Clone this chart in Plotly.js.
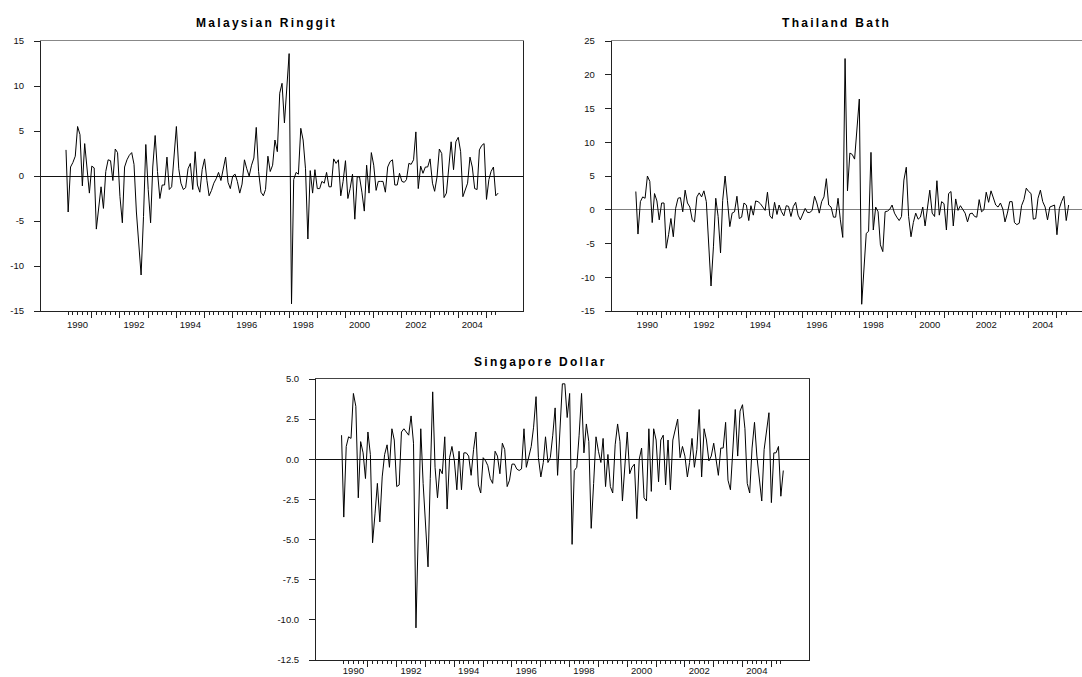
<!DOCTYPE html>
<html><head><meta charset="utf-8">
<script src="https://cdn.plot.ly/plotly-3.0.1.min.js"></script>
<style>html,body{margin:0;padding:0;background:#fff;}</style>
</head><body>
<div id="chart" style="width:1082px;height:677px"></div>
<script>
// first observation month of every series
const startYear = 1990, startMonth = 2;

const malaysia = [
 2.9,-4.0,1.0,1.5,2.2,5.5,4.6,-1.1,3.6,0.5,
 -1.9,1.1,0.9,-5.9,-3.5,-1.2,-3.6,0.5,1.8,1.7,
 -0.5,3.0,2.6,-2.3,-5.2,1.0,1.8,2.3,2.6,1.3,
 -4.0,-8.0,-11.0,-4.5,3.5,-1.5,-5.2,1.0,4.5,0.5,
 -2.5,-1.0,-1.0,2.1,-1.5,-1.2,2.0,5.5,0.8,-0.8,
 -1.5,-1.3,0.8,1.4,-1.5,2.7,-1.0,-1.8,0.7,1.9,
 -0.5,-2.2,-1.6,-0.8,-0.3,0.4,-0.5,0.9,2.1,-0.7,
 -1.4,0.0,0.2,-0.6,-1.9,-0.9,1.8,0.8,0.0,1.2,
 2.0,5.4,0.5,-1.8,-2.2,-1.5,2.2,0.5,1.2,4.0,
 2.7,9.2,10.3,5.9,9.7,13.6,-14.2,-0.4,0.4,0.2,
 5.3,4.0,0.8,-7.0,0.6,-1.9,0.7,-1.4,-1.4,-0.6,
 -0.8,0.4,-1.2,-1.2,1.9,1.4,1.8,-2.2,-0.6,1.7,
 -2.5,-1.4,0.2,-4.8,-0.1,-0.1,-1.8,-3.9,1.2,-1.9,
 2.6,1.2,-1.6,-0.6,-0.6,-0.6,-1.8,1.0,1.6,1.8,
 -1.0,-1.0,0.3,-0.6,-0.7,-0.4,1.4,1.3,1.8,4.9,
 -1.4,1.1,0.3,1.0,1.0,1.9,-0.8,-1.7,-0.1,3.0,
 2.5,-2.4,-1.9,1.0,3.8,0.7,3.8,4.3,2.7,-2.3,
 -1.4,-0.8,2.1,1.0,-1.4,-1.5,2.9,3.4,3.6,-2.6,
 -0.4,0.5,1.0,-2.2,-1.9
];

const thailand = [
 2.7,-3.6,1.2,1.9,1.7,5.0,4.2,-1.9,2.4,1.3,
 -1.5,1.0,1.0,-5.7,-3.7,-1.3,-4.0,0.2,1.7,1.8,
 -0.3,2.9,1.0,0.4,-1.5,-1.8,1.9,2.5,1.9,2.8,
 1.2,-5.0,-11.3,-5.5,1.7,-1.0,-6.4,1.4,5.0,1.4,
 -2.5,-0.5,-0.3,2.0,-1.3,-1.1,1.0,0.7,-1.6,0.6,
 -0.8,1.3,1.2,0.9,0.4,-0.1,2.6,-0.9,-1.3,1.1,
 -0.7,0.7,-0.3,-0.9,0.6,0.5,-1.0,0.5,1.1,-0.8,
 -1.5,-0.5,0.2,-0.4,-0.4,-0.1,2.0,1.0,-0.5,1.2,
 1.9,4.6,0.7,0.4,-1.1,-1.1,1.7,-1.5,-4.1,22.4,
 2.8,8.4,8.2,7.5,11.6,16.4,-14.0,-8.9,-3.5,-3.2,
 8.5,-3.0,0.4,-0.3,-5.2,-6.2,-0.3,-0.2,0.1,0.7,
 -0.5,-1.1,-1.6,-1.0,4.4,6.3,-1.0,-4.0,-1.9,-0.5,
 -1.4,-1.1,0.4,-2.4,0.5,2.9,-0.5,-1.0,4.3,-0.8,
 1.2,0.9,-3.0,2.4,2.7,-2.4,1.6,-0.1,0.6,0.1,
 -0.5,-1.8,-0.6,-0.5,-1.0,-1.1,1.5,-0.3,0.0,2.6,
 1.1,2.8,1.9,0.7,0.4,1.0,0.1,-1.8,-0.5,1.2,
 1.2,-1.9,-2.2,-2.0,0.6,1.5,3.2,2.7,2.4,-1.4,
 -1.3,1.7,2.9,1.2,0.4,-1.5,0.4,0.5,0.7,-3.7,
 0.2,1.2,2.0,-1.6,0.7
];

const singapore = [
 1.5,-3.6,0.8,1.4,1.3,4.1,3.3,-2.4,1.1,0.4,
 -1.2,1.7,0.3,-5.2,-3.4,-1.5,-3.9,-1.1,0.3,0.9,
 -0.5,1.9,1.2,-1.7,-1.6,1.7,1.9,1.7,1.5,2.7,
 1.0,-10.5,-4.3,1.9,-1.5,-4.1,-6.7,-1.2,4.2,-0.5,
 -2.4,-0.6,-0.9,1.4,-3.1,0.1,0.8,-0.1,-1.9,0.5,
 -1.9,0.4,0.4,0.2,-1.0,0.6,1.7,-1.6,-2.1,0.1,
 -0.1,-0.4,-1.2,-1.5,0.5,0.2,-0.9,1.0,0.6,-1.7,
 -1.3,-0.3,-0.3,-0.6,-0.7,-0.6,1.9,-0.5,0.2,0.8,
 2.0,3.9,0.1,-1.1,-0.2,1.4,-0.2,0.1,1.5,3.2,
 -1.0,2.0,4.7,4.7,2.6,4.1,-5.3,-0.7,-0.5,1.5,
 4.1,0.4,2.2,1.1,-4.3,-1.5,1.4,0.5,-0.2,1.3,
 -1.7,0.3,-1.7,-2.1,0.9,2.2,1.1,-2.6,-0.5,1.7,
 -0.9,-0.5,-0.3,-3.7,0.0,0.7,-2.4,-2.6,1.9,-2.0,
 1.9,1.2,-1.4,1.2,1.5,-1.6,1.2,-1.9,1.2,1.8,
 2.5,0.1,0.8,0.2,-1.1,-0.2,1.3,-0.5,0.6,3.1,
 -1.1,1.9,1.2,-0.1,0.2,1.0,0.0,-1.0,0.7,0.7,
 2.3,-1.3,-1.9,0.6,3.1,0.2,3.0,3.4,1.9,-1.5,
 -2.1,0.7,2.3,0.2,-1.3,-2.6,0.6,1.8,2.9,-2.7,
 0.4,0.4,0.8,-2.3,-0.7
];

const panelTitles = ['Malaysian Ringgit', 'Thailand Bath', 'Singapore Dollar'];
const yearLabels = ['1990','1992','1994','1996','1998','2000','2002','2004'];
const malTickVals = [-15,-10,-5,0,5,10,15];
const malTickText = ['-15','-10','-5','0','5','10','15'];
const thaTickVals = [-15,-10,-5,0,5,10,15,20,25];
const thaTickText = ['-15','-10','-5','0','5','10','15','20','25'];
const sgpTickVals = [-12.5,-10,-7.5,-5,-2.5,0,2.5,5];
const sgpTickText = ['-12.5','-10.0','-7.5','-5.0','-2.5','0.0','2.5','5.0'];

// monthly dates
const pad = n => String(n).padStart(2,'0');
const dates = malaysia.map((_, k) => {
  const m0 = startMonth - 1 + k;
  return (startYear + Math.floor(m0/12)) + '-' + pad(m0 % 12 + 1) + '-01';
});
const yearStarts = dates.filter(d => d.slice(5,7) === '01');
const minorVals = dates.filter(d => { const m = +d.slice(5,7); return m % 2 === 1 && m !== 1; });
const labelVals = yearLabels.map(y => y + '-07-01');

const W = 1082, H = 677;
const px = v => v / W, py = v => 1 - v / H;

const FONT = 'Liberation Sans, Arial, sans-serif';
const tickFont = {family: FONT, size: 9.5, color: '#111'};

function lineTrace(y, xa, ya) {
  return {type:'scatter', mode:'lines', x: dates, y: y, xaxis: xa, yaxis: ya,
          line:{color:'#000', width:1}, showlegend:false, hoverinfo:'skip'};
}
function dummy(xa, ya) {
  return {type:'scatter', mode:'lines', x:[dates[0]], y:[null], xaxis: xa, yaxis: ya,
          showlegend:false, hoverinfo:'skip'};
}

function tickAxis(domain, anchor, range, topColor) {
  return {domain: domain, anchor: anchor, type:'date', range: range, fixedrange:true,
    tickmode:'array', tickvals: yearStarts, ticks:'outside', ticklen:6, tickwidth:1, tickcolor:'#222',
    showticklabels:false, showgrid:false, zeroline:false,
    showline:true, linecolor: topColor, linewidth:1, mirror:true,
    minor:{tickmode:'array', tickvals: minorVals, ticks:'outside', ticklen:3, tickwidth:1, tickcolor:'#222', showgrid:false}};
}
function labelAxis(over, anchor, range, standoff) {
  return {overlaying: over, anchor: anchor, side:'bottom', type:'date', range: range, fixedrange:true,
    tickmode:'array', tickvals: labelVals, ticktext: yearLabels, ticks:'', tickfont: tickFont,
    ticklabelstandoff: standoff, showgrid:false, zeroline:false, showline:true, linecolor:'#222', linewidth:1};
}
function valAxis(domain, anchor, range, vals, text, mirror, zeroColor) {
  return {domain: domain, anchor: anchor, range: range, fixedrange:true,
    tickmode:'array', tickvals: vals, ticktext: text, ticks:'outside', ticklen:6, tickwidth:1, tickcolor:'#222',
    tickfont: tickFont, ticklabelstandoff: 8, showgrid:false,
    zeroline:true, zerolinecolor: zeroColor, zerolinewidth:1,
    showline:true, linecolor:'#222', linewidth:1, mirror: mirror};
}

const rangeMS = ['1989-03-14', '2006-04-19'];
const rangeT = ['1989-03-26', '2005-11-21'];

const titleStyle = t => '<b><span style="letter-spacing:2.3px">' + t + '</span></b>';
const titleFont = {family: FONT, size: 12, color: '#000'};

const layout = {
  width: W, height: H, autosize:false,
  margin:{l:0, r:0, t:0, b:0, pad:0},
  paper_bgcolor:'#fff', plot_bgcolor:'#fff',
  showlegend:false,
  xaxis: tickAxis([px(41), px(523)], 'y', rangeMS, '#888'),
  yaxis: valAxis([py(311), py(41)], 'x', [-15, 15], malTickVals, malTickText, true, '#111'),
  xaxis2: tickAxis([px(611.7), 1], 'y2', rangeT, '#888'),
  yaxis2: valAxis([py(311), py(41)], 'x2', [-15, 25], thaTickVals, thaTickText, false, '#808080'),
  xaxis3: tickAxis([px(316), px(808.7)], 'y3', rangeMS, '#444'),
  yaxis3: valAxis([py(660), py(379)], 'x3', [-12.5, 5], sgpTickVals, sgpTickText, true, '#111'),
  xaxis4: labelAxis('x', 'y', rangeMS, 5),
  xaxis5: labelAxis('x2', 'y2', rangeT, 5),
  xaxis6: labelAxis('x3', 'y3', rangeMS, 2),
  annotations: [
    {text: titleStyle(panelTitles[0]), xref:'paper', yref:'paper', x: px(266.6), y: py(23), xanchor:'center', yanchor:'middle', showarrow:false, font: titleFont},
    {text: titleStyle(panelTitles[1]), xref:'paper', yref:'paper', x: px(836.7), y: py(23), xanchor:'center', yanchor:'middle', showarrow:false, font: titleFont},
    {text: titleStyle(panelTitles[2]), xref:'paper', yref:'paper', x: px(540), y: py(361.7), xanchor:'center', yanchor:'middle', showarrow:false, font: titleFont}
  ]
};

const data = [
  lineTrace(malaysia, 'x', 'y'),
  lineTrace(thailand, 'x2', 'y2'),
  lineTrace(singapore, 'x3', 'y3'),
  dummy('x4', 'y'), dummy('x5', 'y2'), dummy('x6', 'y3')
];

Plotly.newPlot('chart', data, layout, {staticPlot:true, displayModeBar:false});
</script>
</body></html>
